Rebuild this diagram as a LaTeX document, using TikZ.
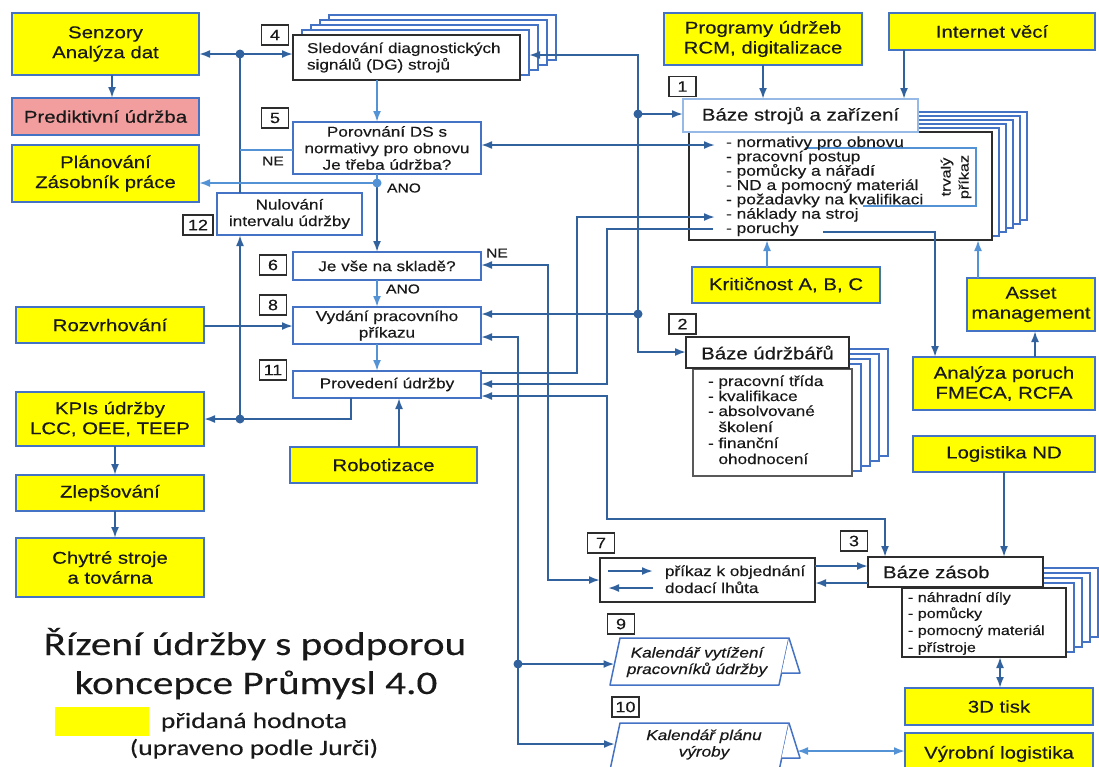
\documentclass[tikz,border=0pt]{standalone}
\usepackage{fontspec}
\setmainfont{Liberation Sans}[FakeStretch=1.2, FakeBold=0.35]
\newfontfamily\titlefont{Carlito}[FakeStretch=1.25, FakeBold=0.2]
\usetikzlibrary{arrows.meta}

\definecolor{ylw}{RGB}{255,255,0}
\definecolor{bord}{RGB}{68,114,196}
\definecolor{hbord}{RGB}{150,185,230}
\definecolor{conn}{RGB}{50,98,158}
\definecolor{lconn}{RGB}{84,146,214}
\definecolor{pinkf}{RGB}{242,158,158}
\definecolor{txt}{RGB}{25,25,25}
\definecolor{dk}{RGB}{45,45,45}

\newcommand\fbig{\fontsize{17}{20}\selectfont}
\newcommand\fmid{\fontsize{14.3}{16.5}\selectfont}
\newcommand\flist{\fontsize{14.5}{14.3}\selectfont}
\newcommand\flistb{\fontsize{13.4}{16}\selectfont}
\newcommand\fnum{\fontsize{15}{17}\selectfont}
\newcommand\flab{\fontsize{13}{15}\selectfont}
\newcommand\ftitle{\titlefont\fontsize{33}{39}\selectfont}
\newcommand\flegend{\titlefont\fontsize{22}{27}\selectfont}

\tikzset{
  every node/.style={text=txt, inner sep=0pt, outer sep=0pt},
  ybox/.style={draw=bord, line width=1.7pt, fill=ylw, align=center, font=\fbig},
  pbox/.style={draw=bord, line width=1.7pt, fill=white, align=center, font=\fmid},
  kbox/.style={draw=dk, line width=1.7pt, fill=white},
  num/.style={draw=dk, line width=1.4pt, fill=white, minimum width=27pt, minimum height=20pt, font=\fnum},
  stackbox/.style={draw=bord, line width=1.4pt, fill=white},
  cn/.style={draw=conn, line width=1.9pt},
  lcn/.style={draw=lconn, line width=1.9pt},
  arw/.style={-{Latex[length=11pt,width=8pt]}},
  arw2/.style={{Latex[length=11pt,width=8pt]}-{Latex[length=11pt,width=8pt]}},
  dot/.style={circle, fill=conn, minimum size=9pt},
  ldot/.style={circle, fill=lconn, minimum size=9pt},
  listitem/.style={anchor=base west, font=\flist},
  calshape/.style={draw=bord, line width=1.5pt, fill=white, line join=round},
}

\begin{document}
\begin{tikzpicture}[x=1pt, y=-1pt]
\useasboundingbox (0,0) rectangle (1099,766);
\clip (0,0) rectangle (1099,766);

% ---------- left column ----------
\node[ybox, minimum width=187pt, minimum height=62pt] (sen) at (105.5,44) {Senzory\\Analýza dat};
\node[ybox, fill=pinkf, minimum width=187pt, minimum height=37pt] (pred) at (105.5,116.5) {Prediktivní údržba};
\node[ybox, minimum width=187pt, minimum height=57pt] (plan) at (105.5,173.5) {Plánování\\Zásobník práce};
\node[ybox, minimum width=188pt, minimum height=36pt] (rozv) at (110,325) {Rozvrhování};
\node[ybox, minimum width=188pt, minimum height=54pt] (kpi) at (110,419) {KPIs údržby\\LCC, OEE, TEEP};
\node[ybox, minimum width=188pt, minimum height=36pt] (zlep) at (110,493) {Zlepšování};
\node[ybox, minimum width=188pt, minimum height=59pt] (chyt) at (110,567.5) {Chytré stroje\\a továrna};

% ---------- process column ----------
\foreach \i in {4,3,2,1}
  \draw[stackbox] ({293+9*\i},{35-5*\i}) rectangle ({520+9*\i},{80-5*\i});
\node[kbox, minimum width=227pt, minimum height=45pt, text width=199pt, align=left, font=\fmid] (n4) at (406.5,57.5) {Sledování diagnostických\\signálů (DG) strojů};
\node[pbox, minimum width=188pt, minimum height=52pt] (n5) at (387,148) {Porovnání DS s\\normativy pro obnovu\\Je třeba údržba?};
\node[pbox, minimum width=145pt, minimum height=42pt] (n12) at (289.5,214) {Nulování\\intervalu údržby};
\node[pbox, minimum width=188pt, minimum height=28pt] (n6) at (387,266) {Je vše na skladě?};
\node[pbox, minimum width=188pt, minimum height=37pt] (n8) at (387,325.5) {Vydání pracovního\\příkazu};
\node[pbox, minimum width=188pt, minimum height=27pt] (n11) at (387,384.5) {Provedení údržby};
\node[ybox, minimum width=187pt, minimum height=36pt] (robo) at (383.5,465) {Robotizace};

% ---------- machine base (1) ----------
\node[ybox, minimum width=198pt, minimum height=52pt] (prog) at (763,39) {Programy údržeb\\RCM, digitalizace};
\node[ybox, minimum width=206pt, minimum height=37pt] (iot) at (992,31.5) {Internet věcí};
\foreach \i in {5,4,3,2,1}
  \draw[stackbox] ({689+7*\i},{132-4*\i}) rectangle ({992+7*\i},{240-4*\i});
\node[kbox, minimum width=303pt, minimum height=108pt] (b1l) at (840.5,186) {};
\node[draw=hbord, line width=1.3pt, fill=white, minimum width=235pt, minimum height=33pt, font=\fbig] (b1h) at (800.5,115.5) {Báze strojů a zařízení};
\draw[draw=lconn, line width=1.3pt] (805,148) -- (976,148) -- (976,206) -- (863,206);
\foreach \posy/\itemtext in {147/normativy pro obnovu, 161.3/pracovní postup, 175.7/pomůcky a nářadí, 190/ND a pomocný materiál, 204.3/požadavky na kvalifikaci, 218.7/náklady na stroj, 233/poruchy}
  \node[listitem] at (726,\posy) {- \itemtext};
\node[rotate=90, align=center, font=\fontsize{13.5}{18}\selectfont] (trv) at (956,177) {trvalý\\příkaz};

\node[ybox, minimum width=188pt, minimum height=36pt] (krit) at (786,285) {Kritičnost A, B, C};
\node[ybox, minimum width=128pt, minimum height=53pt] (asset) at (1031,304.5) {Asset\\management};
\node[ybox, minimum width=182pt, minimum height=53pt] (fmeca) at (1004,383.5) {Analýza poruch\\FMECA, RCFA};
\node[ybox, minimum width=182pt, minimum height=36pt] (logi) at (1004,454) {Logistika ND};

% ---------- maintenance staff base (2) ----------
\foreach \i in {4,3,2,1}
  \draw[stackbox] ({693+9*\i},{369-5*\i}) rectangle ({852+9*\i},{476-5*\i});
\node[kbox, draw=gray!70!black, line width=1.4pt, minimum width=159pt, minimum height=107pt] (b2l) at (772.5,422.5) {};
\node[kbox, minimum width=163pt, minimum height=31pt, font=\fbig] (b2h) at (767.5,352.5) {Báze údržbářů};
\node[listitem, font=\fmid] at (708,386) {- pracovní třída};
\node[listitem, font=\fmid] at (708,401) {- kvalifikace};
\node[listitem, font=\fmid] at (708,416) {- absolvované};
\node[listitem, font=\fmid] at (718.5,432) {školení};
\node[listitem, font=\fmid] at (708,448) {- finanční};
\node[listitem, font=\fmid] at (718.5,464) {ohodnocení};

% ---------- stock base (3) ----------
\foreach \i in {4,3,2,1}
  \draw[stackbox] ({902+8*\i},{588-5*\i}) rectangle ({1066+8*\i},{657-5*\i});
\node[kbox, minimum width=164pt, minimum height=69pt] (b3l) at (984,622.5) {};
\node[kbox, minimum width=175pt, minimum height=30pt, font=\fbig, text width=145pt, align=left] (b3h) at (955.5,572) {Báze zásob};
\foreach \posy/\itemtext in {602/náhradní díly, 618/pomůcky, 635/pomocný materiál, 652/přístroje}
  \node[listitem, font=\flistb] at (908,\posy) {- \itemtext};
\node[ybox, minimum width=188pt, minimum height=37pt] (tisk) at (999,706.5) {3D tisk};
\node[ybox, minimum width=188pt, minimum height=42pt] (vyrl) at (999,754) {Výrobní logistika};

% ---------- order (7) ----------
\node[kbox, minimum width=215pt, minimum height=44pt] (n7) at (707.5,580) {};
\node[anchor=base west, font=\fmid] (n7a) at (665,576) {příkaz k objednání};
\node[anchor=base west, font=\fmid] (n7b) at (665,593) {dodací lhůta};
\coordinate (n7a1) at (608,571); \coordinate (n7a2) at (653,571);
\coordinate (n7b1) at (653,588); \coordinate (n7b2) at (608,588);
\draw[cn, arw] (n7a1) -- (n7a2);
\draw[cn, arw] (n7b1) -- (n7b2);

% ---------- calendars (9, 10) ----------
\draw[calshape] (610,685) -- (620,638) -- (789,638) -- (779,685) -- cycle;
\draw[calshape] (789,638) -- (800,673) -- (781.5,673);
\node[font=\fmid\itshape, align=center] (k9t) at (697,662) {Kalendář vytížení\\pracovníků údržby};
\draw[calshape] (609.8,771) -- (620,723) -- (789,723) -- (779,771);
\draw[calshape] (789,723) -- (800,758) -- (781.5,758);
\node[font=\fmid\itshape, align=center] (k10t) at (704,744.5) {Kalendář plánu\\výroby};
\coordinate (k9in) at (614.5,664);
\coordinate (k10in) at (615,744);
\coordinate (k10r) at (797,751);

% ---------- number labels ----------
\node[num] (l4) at (275,35) {4};
\node[num] (l5) at (275,118) {5};
\node[num, minimum width=30pt] (l12) at (198,225) {12};
\node[num] (l6) at (273,265) {6};
\node[num] (l8) at (273,305) {8};
\node[num] (l11) at (273,370) {11};
\node[num] (l1) at (682.5,86.5) {1};
\node[num] (l2) at (682.5,324) {2};
\node[num] (l3) at (854,541) {3};
\node[num] (l7) at (601,543) {7};
\node[num] (l9) at (621,624) {9};
\node[num] (l10) at (625.5,707) {10};

% ---------- junctions ----------
\coordinate (j1) at (240,54);
\coordinate (j2) at (240,419);
\coordinate (j3) at (377,183);
\coordinate (j4) at (638,114);
\coordinate (j5) at (638,314);
\coordinate (j6) at (518,664);
\coordinate (n4r) at (529,55);
\coordinate (norm) at (715,145);
\coordinate (nakl) at (715,217);
\coordinate (por1) at (713,229);
\coordinate (por2) at (823,232);

% ---------- connectors, left part ----------
\draw[cn, arw] (sen.south -| 112,0) -- (pred.north -| 112,0);
\draw[cn, arw] (kpi.south -| 115,0) -- (zlep.north -| 115,0);
\draw[cn, arw] (zlep.south -| 115,0) -- (chyt.north -| 115,0);
\draw[cn] (n12.north -| j1) -- (j1);
\draw[cn, arw] (j1) -- (sen.east |- j1);
\draw[cn, arw] (j1) -- (n4.west |- j1);
\draw[cn, arw] (n11.south -| 351,0) |- (kpi.east |- j2);
\draw[cn, arw] (j2) -- (n12.south -| j2);
\draw[lcn] (n5.west |- 0,150) -- (j1 |- 0,150);
\node[font=\flab] (ne1) at (273,161) {NE};
\draw[lcn, arw] (n4.south -| j3) -- (n5.north -| j3);
\draw[lcn] (n5.south -| j3) -- (j3);
\draw[lcn, arw] (j3) -- (plan.east |- j3);
\draw[cn, arw] (j3) -- (n6.north -| j3);
\node[font=\flab] (ano1) at (404,188) {ANO};
\draw[lcn, arw] (n6.south -| j3) -- (n8.north -| j3);
\node[font=\flab] (ano2) at (403,289) {ANO};
\draw[lcn, arw] (n8.south -| j3) -- (n11.north -| j3);
\draw[cn, arw] (rozv.east |- 0,326) -- (n8.west |- 0,326);
\draw[cn, arw] (robo.north -| 399,0) -- (n11.south -| 399,0);

% ---------- connectors, middle part ----------
\draw[cn, arw] (j5) -- (j4) |- (n4r);
\draw[cn, arw] (j4) -- (b1h.west |- j4);
\draw[cn, arw] (j5) -- (n8.east |- j5);
\draw[cn, arw] (j5) |- (b2h.west |- 0,352);
\draw[cn, arw2] (n5.east |- norm) -- (norm);
\draw[cn, arw] (n11.east |- 0,373) -| (nakl -| 577,0) -- (nakl);
\draw[cn, arw] (por1) -| (607,384) -- (n11.east |- 0,384);
\draw[cn, arw2] (n11.east |- 0,396) -| (607,519) -| (b3h.north -| 885,0);
\draw[cn, arw2] (n6.east |- 0,265) -| (548,580) -- (n7.west |- 0,580);
\node[font=\flab] (ne2) at (497,253) {NE};
\draw[cn, arw2] (n8.east |- 0,337) -| (518,744) -- (k10in);
\draw[cn, arw] (j6) -- (k9in);
\draw[cn, arw] (n7.east |- 0,566) -- (b3h.west |- 0,566);
\draw[cn, arw] (b3h.west |- 0,583) -- (n7.east |- 0,583);

% ---------- connectors, right part ----------
\draw[cn, arw] (prog.south) -- (b1h.north -| prog.south);
\draw[cn, arw] (iot.south -| 904,0) -- (b1h.north -| 904,0);
\draw[lcn, arw] (krit.north -| 767,0) -- (b1l.south -| 767,0);
\draw[cn, arw] (por2) -| (fmeca.north -| 935,0);
\draw[cn, arw] (fmeca.north -| 1035,0) -- (asset.south -| 1035,0);
\draw[lcn, arw] (asset.north -| 978,0) -- (b1l.south -| 978,0);
\draw[cn, arw] (logi.south -| 1004,0) -- (b3h.north -| 1004,0);
\draw[cn, arw2] (b3l.south -| 1000,0) -- (tisk.north -| 1000,0);
\draw[lcn, arw2] (k10r) -- (vyrl.west |- k10r);

% ---------- junction dots ----------
\node[dot] (d1) at (j1) {};
\node[dot] (d2) at (j2) {};
\node[ldot] (d3) at (j3) {};
\node[dot] (d4) at (j4) {};
\node[dot] (d5) at (j5) {};
\node[dot] (d6) at (j6) {};

% ---------- title and legend ----------
\node[anchor=base, font=\ftitle] (t1) at (255,655) {Řízení údržby s podporou};
\node[anchor=base, font=\ftitle] (t2) at (256,694) {koncepce Průmysl 4.0};
\node[fill=ylw, minimum width=94pt, minimum height=29pt] (leg) at (102,721.5) {};
\node[anchor=base, font=\flegend] (t3) at (254,728) {přidaná hodnota};
\node[anchor=base, font=\flegend] (t4) at (254,755) {(upraveno podle Jurči)};
\end{tikzpicture}
\end{document}
